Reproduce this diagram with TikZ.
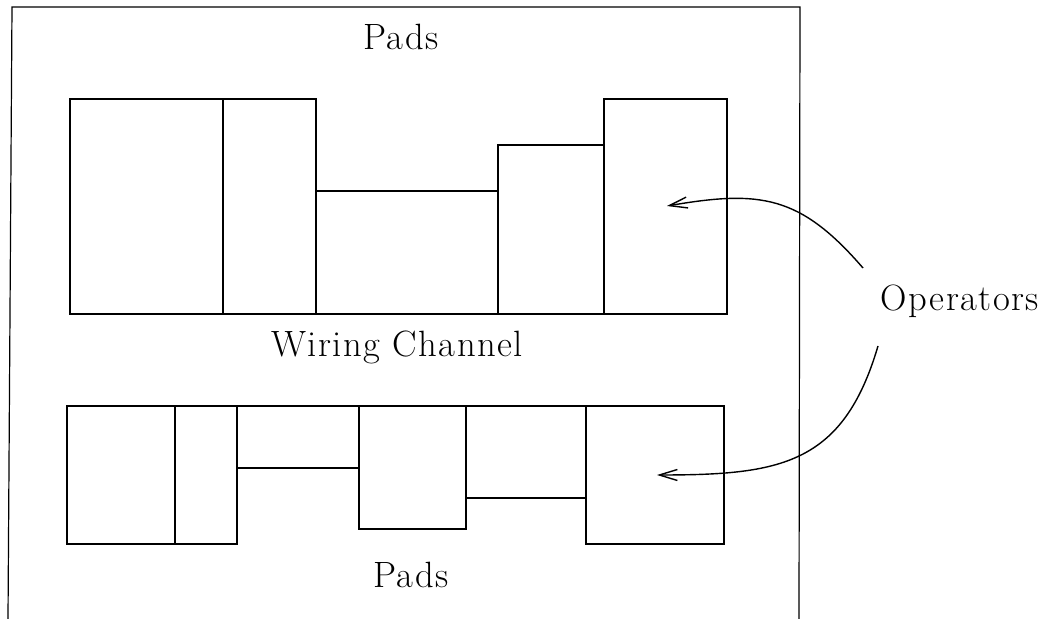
\documentclass[tikz,border=0pt]{standalone}
\usepackage{fontspec}
\setmainfont{Latin Modern Roman}[LetterSpace=4]
\usetikzlibrary{arrows.meta}
\begin{document}
\begin{tikzpicture}[x=0.5pt,y=-0.5pt,
  line width=0.6pt,
  blk/.style={draw=black},
  lbl/.style={anchor=base,inner sep=0pt,font=\fontsize{18.3}{22}\selectfont},
  ptr/.style={line width=0.7pt,-{Straight Barb[length=9pt,width=5.5pt]}}]
\useasboundingbox (0,0) rectangle (1045,619);
% outer frame (bottom edge cut off)
\draw (8,619) -- (12,7) -- (800,7) -- (799,619);
% top row of operators
\draw[blk] (70,99) rectangle (223,314);
\draw[blk] (223,99) rectangle (316,314);
\draw[blk] (316,191) rectangle (498,314);
\draw[blk] (498,145) rectangle (604,314);
\draw[blk] (604,99) rectangle (727,314);
% bottom row of operators
\draw[blk] (67,406) rectangle (175,544);
\draw[blk] (175,406) rectangle (237,544);
\draw[blk] (237,406) rectangle (359,468);
\draw[blk] (359,406) rectangle (466,529);
\draw[blk] (466,406) rectangle (586,498);
\draw[blk] (586,406) rectangle (724,544);
% labels
\node[lbl] (padsT) at (401,50) {Pads};
\node[lbl] (wire) at (397,357) {Wiring Channel};
\node[lbl] (padsB) at (411,588) {Pads};
\node[lbl] (ops) at (960,311) {Operators};
% arrows
\coordinate (s1) at (863,268);
\coordinate (t1) at (667,206);
\coordinate (s2) at (878,346);
\coordinate (t2) at (657,475);
\draw[ptr] (s1) .. controls (800,195) and (760,190) .. (t1);
\draw[ptr] (s2) .. controls (843,465) and (780,475) .. (t2);
\end{tikzpicture}
\end{document}
